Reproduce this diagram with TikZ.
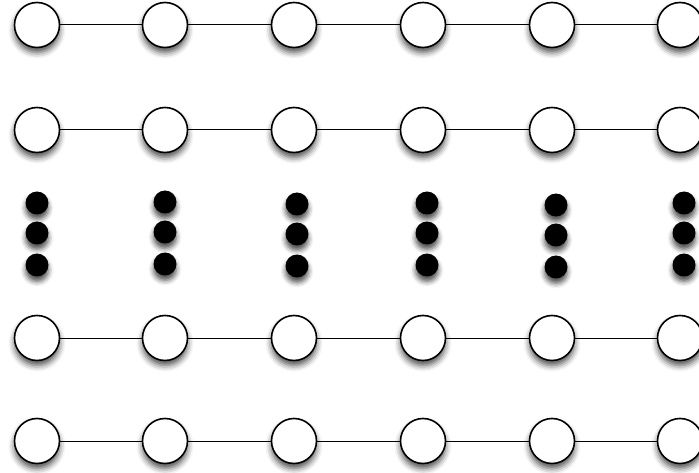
\documentclass[tikz,border=0pt]{standalone}
\usetikzlibrary{shadows.blur}
\tikzset{
  site/.style={circle, draw=black, line width=1.6pt, fill=white,
    minimum size=45pt, inner sep=0pt,
    blur shadow={shadow xshift=0pt, shadow yshift=-5pt, shadow blur radius=6pt, shadow opacity=70}},
  vdot/.style={circle, fill=black, minimum size=23pt, inner sep=0pt,
    blur shadow={shadow xshift=0pt, shadow yshift=-5pt, shadow blur radius=5pt, shadow opacity=70}},
  bond/.style={line width=1pt}
}

\begin{document}
\begin{tikzpicture}[x=1pt, y=-1pt]
  \useasboundingbox (0,0) rectangle (699,473);
  % chains
  \foreach \r/\y in {1/25, 2/130, 4/338, 5/441} {
    \foreach \c/\x in {1/37, 2/165, 3/294, 4/423, 5/552, 6/680}
      \node[site] (n-\r-\c) at (\x,\y) {};
    \foreach \c [evaluate=\c as \d using int(\c+1)] in {1,...,5}
      \draw[bond] (n-\r-\c) -- (n-\r-\d);
  }
  % vertical dots
  \foreach \c/\x/\s in {1/37/0, 2/165/-1, 3/297/1, 4/427/0, 5/556/2, 6/684/0}
    \foreach \k/\y in {1/203, 2/233, 3/265}
      \node[vdot] (d-\c-\k) at (\x,\y+\s) {};
\end{tikzpicture}
\end{document}
